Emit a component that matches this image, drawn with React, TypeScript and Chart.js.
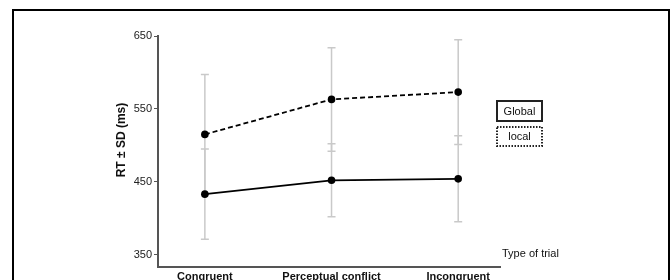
import React, { useEffect, useRef } from "react";
import { Chart, registerables } from "chart.js";

Chart.register(...registerables);

const categories = ["Congruent", "Perceptual conflict", "Incongruent"];
const globalMeans = [433, 452, 454];
const globalSD = [62, 50, 59];
const localMeans = [515, 563, 573];
const localSD = [82, 71, 72];
const yTicks = [350, 450, 550, 650];
const seriesNames = ["Global", "local"];

const FONT = "'Liberation Sans', Arial, sans-serif";

const errorBarPlugin = {
  id: "errorBars",
  beforeDatasetsDraw(chart: any) {
    const ctx = chart.ctx;
    const xs = chart.scales.x;
    const ys = chart.scales.y;
    const sets = [
      { m: globalMeans, s: globalSD },
      { m: localMeans, s: localSD },
    ];
    ctx.save();
    ctx.strokeStyle = "#c9c9c9";
    ctx.lineWidth = 1.5;
    sets.forEach((set) => {
      set.m.forEach((v, i) => {
        const x = xs.getPixelForValue(i);
        const yt = ys.getPixelForValue(v + set.s[i]);
        const yb = ys.getPixelForValue(v - set.s[i]);
        ctx.beginPath();
        ctx.moveTo(x, yt);
        ctx.lineTo(x, yb);
        ctx.moveTo(x - 4, yt);
        ctx.lineTo(x + 4, yt);
        ctx.moveTo(x - 4, yb);
        ctx.lineTo(x + 4, yb);
        ctx.stroke();
      });
    });
    ctx.restore();
  },
};

const annotationsPlugin = {
  id: "annotations",
  afterDraw(chart: any) {
    const ctx = chart.ctx;
    const area = chart.chartArea;
    ctx.save();
    // Y axis title
    ctx.fillStyle = "#111";
    ctx.font = `bold 12px ${FONT}`;
    ctx.textAlign = "center";
    ctx.textBaseline = "middle";
    ctx.translate(122, 140);
    ctx.rotate(-Math.PI / 2);
    ctx.fillText("RT \u00B1 SD (ms)", 0, 0);
    ctx.restore();

    ctx.save();
    ctx.fillStyle = "#111";
    ctx.font = `11px ${FONT}`;
    ctx.textAlign = "left";
    ctx.textBaseline = "middle";
    ctx.fillText("Type of trial", area.right + 2, area.bottom - 13);

    // Legend
    const bx = area.right - 3;
    const bw = 45;
    ctx.strokeStyle = "#222";
    ctx.lineWidth = 2;
    ctx.setLineDash([]);
    ctx.strokeRect(bx, 101, bw, 20);
    ctx.textAlign = "center";
    ctx.fillText(seriesNames[0], bx + bw / 2, 111.5);
    ctx.setLineDash([1.5, 1.5]);
    ctx.strokeRect(bx, 127, bw, 19);
    ctx.fillText(seriesNames[1], bx + bw / 2, 137);
    ctx.restore();
  },
};

export default function App() {
  const ref = useRef<HTMLCanvasElement>(null);

  useEffect(() => {
    if (!ref.current) return;
    const chart = new Chart(ref.current, {
      type: "line",
      data: {
        datasets: [
          {
            label: seriesNames[0],
            data: globalMeans.map((v, i) => ({ x: i, y: v })),
            borderColor: "#000",
            backgroundColor: "#000",
            borderWidth: 1.8,
            pointRadius: 3.8,
            pointBackgroundColor: "#000",
            pointBorderWidth: 0,
          },
          {
            label: seriesNames[1],
            data: localMeans.map((v, i) => ({ x: i, y: v })),
            borderColor: "#000",
            backgroundColor: "#000",
            borderWidth: 1.8,
            borderDash: [5, 3],
            pointRadius: 3.8,
            pointBackgroundColor: "#000",
            pointBorderWidth: 0,
          },
        ],
      },
      options: {
        responsive: false,
        animation: false,
        layout: { padding: { left: 0, top: 36, right: 171, bottom: 0 } },
        plugins: {
          legend: { display: false },
          tooltip: { enabled: false },
          title: { display: false },
        },
        scales: {
          x: {
            type: "linear",
            min: -0.37,
            max: 2.33,
            afterFit: (s: any) => {
              s.height = 13;
            },
            afterBuildTicks: (s: any) => {
              s.ticks = categories.map((_, i) => ({ value: i }));
            },
            grid: { display: false, drawTicks: false },
            border: { display: true, color: "#555", width: 2 },
            ticks: {
              padding: 3,
              color: "#111",
              font: { family: FONT, size: 11, weight: "bold" },
              maxRotation: 0,
              autoSkip: false,
              callback: (v: any) => categories[v] ?? "",
            },
          },
          y: {
            type: "linear",
            min: 333,
            max: 650,
            afterFit: (s: any) => {
              s.width = 158;
            },
            afterBuildTicks: (s: any) => {
              s.ticks = yTicks.map((v) => ({ value: v }));
            },
            grid: {
              drawOnChartArea: false,
              drawTicks: true,
              tickLength: 4,
              color: "#555",
              lineWidth: 1,
            },
            border: { display: true, color: "#555", width: 2 },
            ticks: {
              padding: 2,
              color: "#222",
              font: { family: FONT, size: 11 },
            },
          },
        },
      },
      plugins: [errorBarPlugin, annotationsPlugin],
    });
    return () => chart.destroy();
  }, []);

  return (
    <div
      style={{
        position: "absolute",
        left: 0,
        top: 0,
        width: 671,
        height: 280,
        overflow: "hidden",
        background: "#fff",
      }}
    >
      <canvas
        ref={ref}
        width={671}
        height={280}
        style={{ position: "absolute", left: 0, top: 0, width: 671, height: 280 }}
      />
      <div
        style={{
          position: "absolute",
          left: 12,
          top: 9,
          width: 658,
          height: 300,
          boxSizing: "border-box",
          border: "2px solid #000",
          pointerEvents: "none",
        }}
      />
    </div>
  );
}
